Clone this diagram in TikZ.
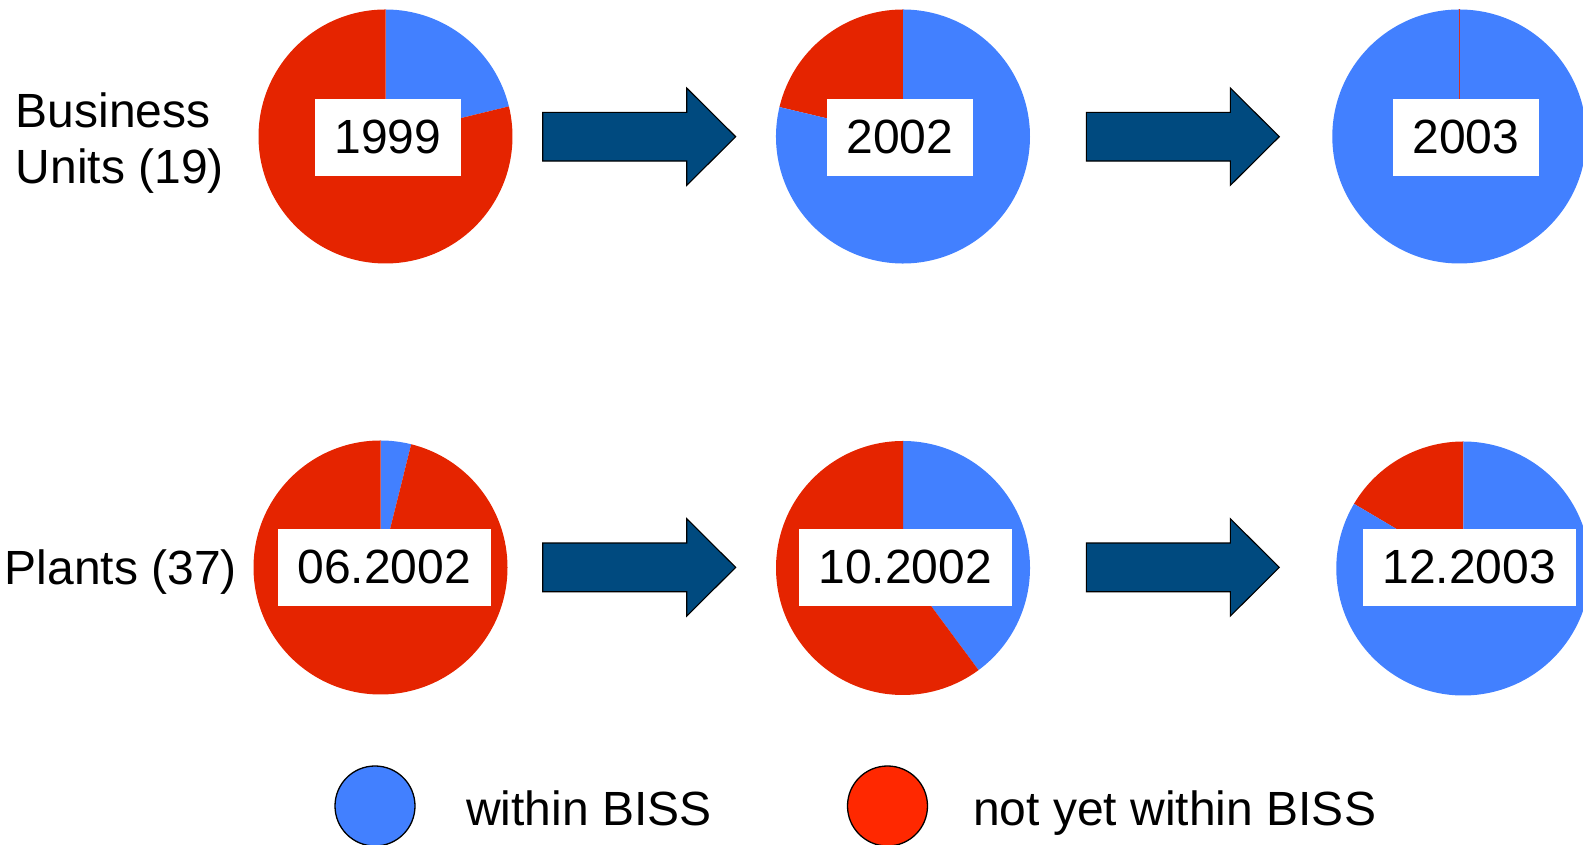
\documentclass[tikz,border=0pt]{standalone}
\usepackage{fontspec}
\setmainfont{Liberation Sans}
\begin{document}
\definecolor{inblue}{RGB}{66,128,255}
\definecolor{outred}{RGB}{229,36,0}
\definecolor{legred}{RGB}{255,40,0}
\definecolor{arrowblue}{RGB}{0,74,127}
\tikzset{
  datebox/.style={fill=white, inner sep=0pt, minimum height=76.7pt, font=\fontsize{48}{56}\selectfont},
  rowlabel/.style={inner sep=0pt, font=\fontsize{48}{55.5}\selectfont, align=left},
  legendtext/.style={inner sep=0pt, font=\fontsize{48}{56}\selectfont, anchor=base west},
  legenddot/.style={draw=black, line width=1.3pt, circle, minimum size=80pt, inner sep=0pt},
  arrowshape/.style={fill=arrowblue, draw=black, line width=1.1pt, line join=miter},
  blockarrow/.pic={
    \draw[arrowshape] (0,-24.35) -- (144,-24.35) -- (144,-48.7) -- (193,0)
      -- (144,48.7) -- (144,24.35) -- (0,24.35) -- cycle;
  }
}
% a pie slice: colour, centre, start angle, end angle
\newcommand\pieslice[4]{\fill[#1] (#2) -- ++(#3:127pt) arc[start angle=#3, end angle=#4, radius=127pt] -- cycle;}
\begin{tikzpicture}[x=1pt, y=1pt]
\useasboundingbox (0,0) rectangle (1583,845);

% row labels
\node[rowlabel, anchor=north west] (rowbu) at (15.5,752) {Business\\Units (19)};
\node[rowlabel, anchor=base west] (rowpl) at (4.6,260.5) {Plants (37)};

% pie centres
\coordinate (buA) at (385.5,708.5);
\coordinate (buB) at (903,708.5);
\coordinate (buC) at (1459.3,708.5);
\coordinate (plA) at (380.5,277.5);
\coordinate (plB) at (903,277);
\coordinate (plC) at (1463.3,276.5);

% business units
\pieslice{inblue}{buA}{13.7}{90}
\pieslice{outred}{buA}{90}{373.7}
\pieslice{outred}{buB}{90}{166.6}
\pieslice{inblue}{buB}{166.6}{450}
\fill[inblue] (buC) circle[radius=127pt];
\draw[outred!85!inblue, line width=0.8pt] (buC) -- ++(90:127pt);

% plants
\pieslice{inblue}{plA}{76}{90}
\pieslice{outred}{plA}{90}{436}
\pieslice{inblue}{plB}{-53.5}{90}
\pieslice{outred}{plB}{90}{306.5}
\pieslice{outred}{plC}{90}{149.4}
\pieslice{inblue}{plC}{149.4}{450}

% date labels
\node[datebox, minimum width=146pt] (dA) at (388,707.6) {1999};
\node[datebox, minimum width=146pt] (dB) at (899.7,707.6) {2002};
\node[datebox, minimum width=146.3pt] (dC) at (1465.8,707.6) {2003};
\node[datebox, minimum width=213pt] (dD) at (384.2,277.6) {06.2002};
\node[datebox, minimum width=212.7pt] (dE) at (905.3,277.6) {10.2002};
\node[datebox, minimum width=213.3pt] (dF) at (1469.3,277.6) {12.2003};

% progress arrows
\pic (arA) at (542.7,708.3) {blockarrow};
\pic (arB) at (1086.3,708.3) {blockarrow};
\pic (arC) at (542.7,277.6) {blockarrow};
\pic (arD) at (1086.3,277.6) {blockarrow};

% legend
\node[legenddot, fill=inblue] (legin) at (375,39) {};
\node[legendtext] (legintxt) at (466,19.5) {within BISS};
\node[legenddot, fill=legred] (legout) at (887.5,39) {};
\node[legendtext] (legouttxt) at (973,19.5) {not yet within BISS};
\end{tikzpicture}
\end{document}
